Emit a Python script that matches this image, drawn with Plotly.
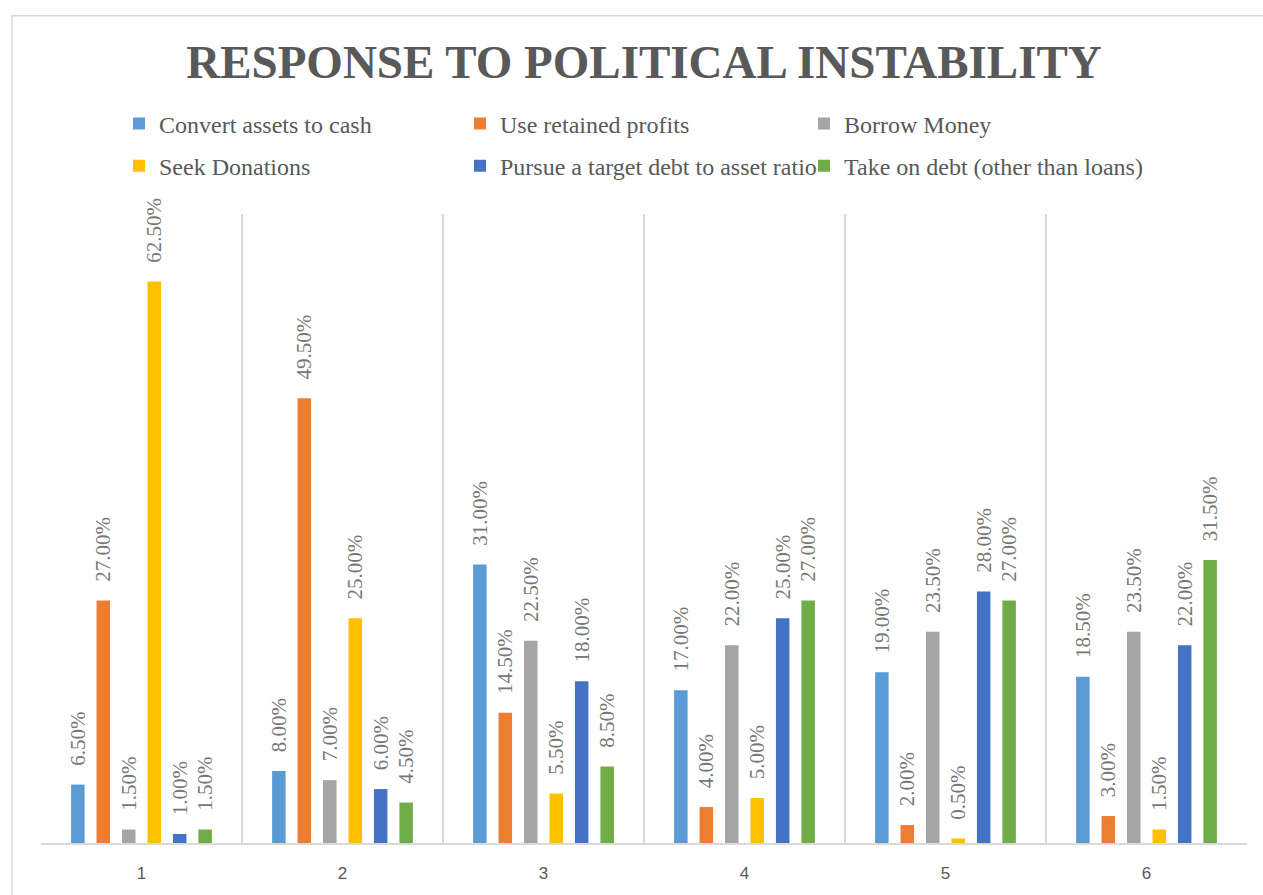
import plotly.graph_objects as go

categories = ["1", "2", "3", "4", "5", "6"]

series_names = [
    "Convert assets to cash",
    "Use retained profits",
    "Borrow Money",
    "Seek Donations",
    "Pursue a target debt to asset ratio",
    "Take on debt (other than loans)",
]

convert_assets = [6.5, 8.0, 31.0, 17.0, 19.0, 18.5]
retained_profits = [27.0, 49.5, 14.5, 4.0, 2.0, 3.0]
borrow_money = [1.5, 7.0, 22.5, 22.0, 23.5, 23.5]
seek_donations = [62.5, 25.0, 5.5, 5.0, 0.5, 1.5]
target_ratio = [1.0, 6.0, 18.0, 25.0, 28.0, 22.0]
take_on_debt = [1.5, 4.5, 8.5, 27.0, 27.0, 31.5]

series_values = [convert_assets, retained_profits, borrow_money,
                 seek_donations, target_ratio, take_on_debt]

colors = ["#5B9BD5", "#ED7D31", "#A5A5A5", "#FFC000", "#4472C4", "#70AD47"]
legend_ids = ["legend", "legend2", "legend3", "legend", "legend2", "legend3"]

SERIF = "Times New Roman, Liberation Serif, serif"

W, H = 1263, 895
L, R, T, B = 41, 16, 214, 50
pw, ph = W - L - R, H - T - B

def px_x(p):
    return (p - L) / pw

def px_y(p):
    return (H - B - p) / ph

fig = go.Figure()
for name, vals, col, lg in zip(series_names, series_values, colors, legend_ids):
    fig.add_trace(go.Bar(
        x=categories,
        y=[v / 100 for v in vals],
        name=name,
        marker=dict(color=col, line=dict(width=0)),
        text=[f"\u00a0\u00a0\u00a0{v:.2f}%" for v in vals],
        texttemplate="%{text}",
        textposition="outside",
        textangle=-90,
        constraintext="none",
        cliponaxis=False,
        textfont=dict(family=SERIF, size=21, color="#767676"),
        legend=lg,
        legendgroup=name,
        hoverinfo="skip",
    ))

legend_font = dict(family=SERIF, size=24, color="#595959")
legend_common = dict(
    orientation="v", xanchor="left", yanchor="top",
    y=px_y(101), font=legend_font, bgcolor="rgba(0,0,0,0)",
    tracegroupgap=8, itemclick=False, itemdoubleclick=False,
)

fig.update_layout(
    width=W, height=H,
    margin=dict(l=L, r=R, t=T, b=B, pad=0),
    paper_bgcolor="white", plot_bgcolor="white",
    barmode="group", bargap=0.24, bargroupgap=0.47,
    title=dict(
        text="<b>RESPONSE TO POLITICAL INSTABILITY</b>",
        font=dict(family=SERIF, size=47, color="#595959"),
        x=0.5, xref="paper", xanchor="center",
        y=1 - 62 / H, yref="container", yanchor="middle",
    ),
    legend=dict(x=px_x(119), **legend_common),
    legend2=dict(x=px_x(460), **legend_common),
    legend3=dict(x=px_x(804), **legend_common),
    xaxis=dict(
        type="category",
        tickson="boundaries",
        showgrid=True, gridcolor="#D9D9D9", gridwidth=1.5,
        showline=True, linecolor="#D9D9D9", linewidth=1.5,
        ticks="", ticklabelstandoff=14,
        tickfont=dict(family="Liberation Sans", size=17, color="#595959"),
        fixedrange=True,
    ),
    yaxis=dict(
        range=[0, 0.7], visible=False, showgrid=False, zeroline=False,
        fixedrange=True,
    ),
    shapes=[dict(
        type="rect", xref="paper", yref="paper",
        x0=px_x(12), x1=px_x(1275), y0=px_y(910), y1=px_y(15),
        line=dict(color="#D9D9D9", width=1.5), fillcolor="rgba(0,0,0,0)",
        layer="below",
    )],
)

fig.write_html("out.html")
